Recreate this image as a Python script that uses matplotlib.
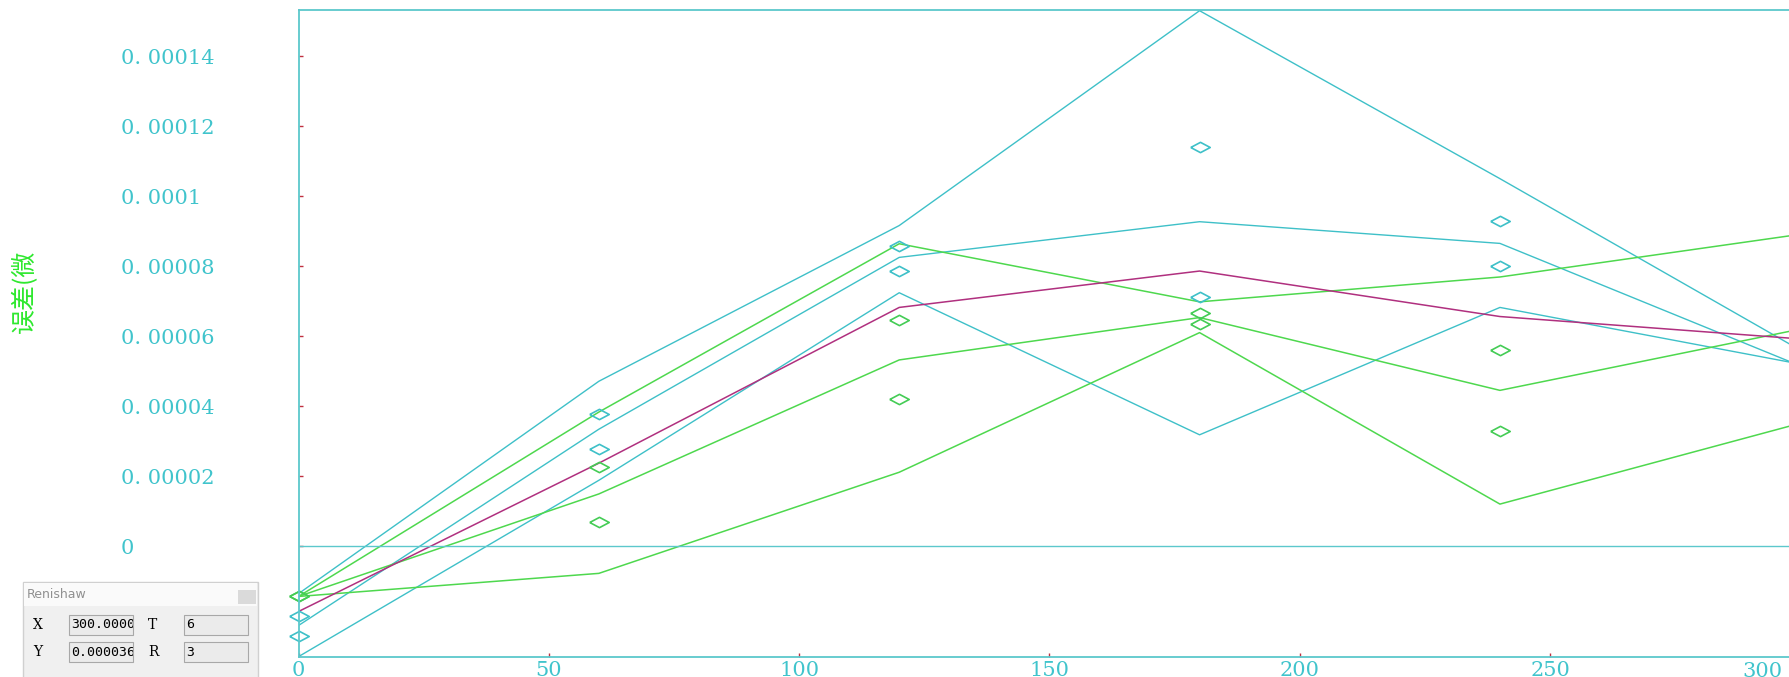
import matplotlib.pyplot as plt
from matplotlib.patches import Rectangle

# valores en unidades de 1e-5
SCALE = 1e-5
x_pos = [0, 60, 120, 180, 240, 300]

cyan_a = [-1.36, 4.71, 9.16, 15.30, 10.50, 5.60]
cyan_b = [-2.27, 3.34, 8.25, 9.27, 8.65, 5.15]
cyan_c = [-3.16, 1.88, 7.24, 3.18, 6.82, 5.20]
green_1 = [-1.44, 3.83, 8.64, 6.98, 7.69, 8.91]
green_2 = [-1.44, 1.49, 5.32, 6.53, 4.45, 6.20]
green_3 = [-1.44, -0.78, 2.11, 6.10, 1.20, 3.51]
magenta = [-1.87, 2.37, 6.82, 7.86, 6.56, 5.92]

dia_x = [0, 60, 120, 180, 240]
cyan_hi = [-1.99, 3.77, 8.57, 11.40, 9.29]
cyan_lo = [-2.58, 2.76, 7.86, 7.13, 7.99]
green_hi = [-1.44, 2.27, 6.46, 6.66, 5.59]
green_lo = [-1.44, 0.68, 4.19, 6.36, 3.29]

y_ticks = [0, 2, 4, 6, 8, 10, 12, 14]
y_tick_labels = ['0', '0. 00002', '0. 00004', '0. 00006', '0. 00008',
                 '0. 0001', '0. 00012', '0. 00014']
x_ticks = [0, 50, 100, 150, 200, 250]
x_tick_labels = ['0', '50', '100', '150', '200', '250']

CYAN = '#3EC0C8'
GREEN = '#4ED84E'
GREEN_DIA = '#44CC55'
MAGENTA = '#B0307F'
AXIS = '#5CC8CC'
TICK = '#C03040'
LABEL = '#40C4CC'

W, H = 1789, 677
fig = plt.figure(figsize=(W / 100, H / 100), dpi=100)
fig.patch.set_facecolor('white')
ax = fig.add_axes([298.5 / W, 1 - 657 / H, 1 - 298.5 / W, (657 - 10) / H])

sc = lambda v: [a * SCALE for a in v]

for serie in (cyan_a, cyan_b, cyan_c):
    ax.plot(x_pos, sc(serie), color=CYAN, lw=1.0)
for serie in (green_1, green_2, green_3):
    ax.plot(x_pos, sc(serie), color=GREEN, lw=1.1)
ax.plot(x_pos, sc(magenta), color=MAGENTA, lw=1.1)

diamond = [(-1, 0), (0, 0.53), (1, 0), (0, -0.53), (-1, 0)]
for serie in (cyan_hi, cyan_lo):
    ax.plot(dia_x, sc(serie), ls='none', marker=diamond, ms=14, mfc='none',
            mec=CYAN, mew=1.2, clip_on=False)
for serie in (green_hi, green_lo):
    ax.plot(dia_x, sc(serie), ls='none', marker=diamond, ms=14, mfc='none',
            mec=GREEN_DIA, mew=1.2, clip_on=False)

ax.axhline(0, color=AXIS, lw=1.0)

ax.set_xlim(0, (W - 298.5) / 5.006)
ax.set_ylim(-3.17 * SCALE, 15.32 * SCALE)

for side in ('left', 'bottom', 'top'):
    ax.spines[side].set_color(AXIS)
    ax.spines[side].set_linewidth(1.3)
ax.spines['right'].set_visible(False)

ax.set_yticks(sc(y_ticks))
ax.set_yticklabels(y_tick_labels, ha='left')
ax.set_xticks(x_ticks)
ax.set_xticklabels(x_tick_labels)
ax.tick_params(axis='y', direction='in', length=3, width=1, color=TICK,
               labelcolor=LABEL, labelsize=15, pad=(298.5 - 120.7) * 0.72)
ax.tick_params(axis='x', direction='in', length=3, width=1, color=TICK,
               labelcolor=LABEL, labelsize=15, pad=3)
for lab in ax.get_yticklabels() + ax.get_xticklabels():
    lab.set_family('DejaVu Serif')

# etiqueta "300" desplazada hacia dentro, como en la captura
ax.text(1.0 - 6 / (W - 298.5), -5 / 647, '300', transform=ax.transAxes,
        ha='right', va='top', color=LABEL, fontsize=15, family='DejaVu Serif')

fig.text(0.014, 0.569, '误差(微', rotation=90, color='#2EE82E', fontsize=18,
         ha='center', va='center', family=['Noto Sans CJK SC', 'DejaVu Sans'])

# ventana "Renishaw"
def px_rect(x0, y0, x1, y1, **kw):
    r = Rectangle((x0 / W, 1 - y1 / H), (x1 - x0) / W, (y1 - y0) / H,
                  transform=fig.transFigure, **kw)
    fig.add_artist(r)
    return r

def px_text(x, y, s, **kw):
    return fig.text(x / W, 1 - y / H, s, **kw)

px_rect(22.7, 581.7, 258, 680, facecolor='#F0F0F0', edgecolor='#D0D0D0', lw=1)
px_rect(23.5, 582.5, 257, 606, facecolor='#FAFAFA', edgecolor='none')
px_rect(238, 590, 256, 604, facecolor='#DADADA', edgecolor='none')
px_text(27, 595, 'Renishaw', color='#909090', fontsize=9, va='center',
        family='DejaVu Sans')

rows = [(625, 'X', '300.00000', 'T', '6'), (652, 'Y', '0.000036', 'R', '3')]
for yc, l1, v1, l2, v2 in rows:
    px_text(38, yc, l1, fontsize=10, va='center', ha='center',
            family='DejaVu Serif')
    px_text(153, yc, l2, fontsize=10, va='center', ha='center',
            family='DejaVu Serif')
    px_rect(69, yc - 10, 133, yc + 10, facecolor='#EBEBEB', edgecolor='#A8A8A8', lw=0.8)
    px_rect(184, yc - 10, 248, yc + 10, facecolor='#EBEBEB', edgecolor='#A8A8A8', lw=0.8)
    t = px_text(71, yc, v1, fontsize=9.5, va='center', family='DejaVu Sans Mono')
    t.set_clip_path(Rectangle((69 / W, 1 - (yc + 10) / H), 64 / W, 20 / H,
                              transform=fig.transFigure))
    px_text(186, yc, v2, fontsize=9.5, va='center', family='DejaVu Sans Mono')

fig.savefig('out.png', dpi=100)
